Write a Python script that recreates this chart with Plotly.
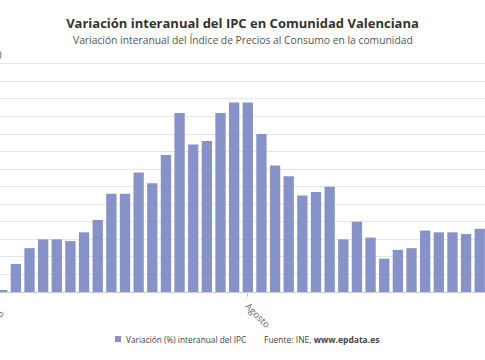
import plotly.graph_objects as go

# ---- data ----
months = ["Ene", "Feb", "Mar", "Abr", "May", "Jun", "Jul", "Ago", "Sep", "Oct", "Nov", "Dic"]
categories = [f"{m} {y}" for y in (2021, 2022, 2023) for m in months] + ["Ene 2024"]
values = [None,
          0.1, 1.6, 2.5, 3.0, 3.0, 2.9, 3.4, 4.1, 5.6, 5.6, 6.8,
          6.2, 7.8, 10.2, 8.4, 8.6, 10.2, 10.8, 10.8, 9.0, 7.2, 6.6, 5.5,
          5.7, 6.0, 3.0, 4.0, 3.1, 1.9, 2.4, 2.5, 3.5, 3.4, 3.4, 3.3,
          3.6]
tick_vals = ["Ago 2022"]
tick_text = ["Agosto"]
series_name = "Variación (%) interanual del IPC"
title = "Variación interanual del IPC en Comunidad Valenciana"
subtitle = "Variación interanual del Índice de Precios al Consumo en la comunidad"

W, H = 485, 360
L, R, T, B = 0, 0, 55, 68
plot_h = H - T - B
FONT = "Open Sans"
BAR = "#8792c8"

fig = go.Figure(go.Bar(x=categories, y=values, name=series_name,
                       marker=dict(color=BAR, line=dict(width=0)),
                       hoverinfo="skip"))

def py(px):  # pixel y -> paper y
    return (H - B - px) / plot_h

def px_(px):
    return px / (W - L - R)

fig.update_layout(
    width=W, height=H,
    margin=dict(l=L, r=R, t=T, b=B),
    paper_bgcolor="white", plot_bgcolor="white",
    font=dict(family=FONT, color="#555"),
    showlegend=False,
    bargap=0.245,
    title=dict(text=f"<b>{title}</b>", x=0.5, xanchor="center",
               y=1 - 23.5 / H, yanchor="middle", yref="container",
               font=dict(size=13, color="#333", family=FONT)),
    xaxis=dict(type="category", range=[0.8388, 36.386], tickvals=tick_vals,
               ticktext=tick_text, tickangle=45, showgrid=False,
               ticks="outside", ticklen=4, tickcolor="#ccc",
               showline=True, linecolor="#ccc", linewidth=1,
               tickfont=dict(size=9.5, color="#666"), automargin=False),
    yaxis=dict(range=[0, 13.5], dtick=1, showgrid=True, gridcolor="#e6e6e6",
               gridwidth=1, zeroline=False, showticklabels=False,
               automargin=False),
)

# subtitle
fig.add_annotation(text=subtitle, xref="paper", yref="paper", x=0.5,
                   y=py(39.5), xanchor="center", yanchor="middle",
                   showarrow=False, font=dict(size=10.3, color="#555"))
# partially visible labels at the cropped left edge
fig.add_annotation(text="0", xref="paper", yref="paper", x=px_(3.5),
                   y=py(55), xanchor="right", yanchor="middle",
                   showarrow=False, font=dict(size=10, color="#666"))
fig.add_annotation(text="Enero", xref="paper", yref="paper", x=px_(-23),
                   y=py(290), xanchor="left", yanchor="top", textangle=45,
                   showarrow=False, font=dict(size=9.5, color="#666"))
# legend
fig.add_shape(type="rect", xref="paper", yref="paper",
              x0=px_(115), x1=px_(121), y0=py(342), y1=py(336),
              fillcolor=BAR, line=dict(width=0))
fig.add_annotation(text=series_name, xref="paper", yref="paper", x=px_(124),
                   y=py(339), xanchor="left", yanchor="middle",
                   showarrow=False, font=dict(size=8.3, color="#444"))
fig.add_annotation(text="Fuente: INE, <b>www.epdata.es</b>", xref="paper",
                   yref="paper", x=px_(262), y=py(339), xanchor="left",
                   yanchor="middle", showarrow=False,
                   font=dict(size=8.5, color="#444"))

fig.write_html("out.html", config={"displayModeBar": False},
               post_script="document.body.style.margin='0';document.body.style.overflow='hidden';")
